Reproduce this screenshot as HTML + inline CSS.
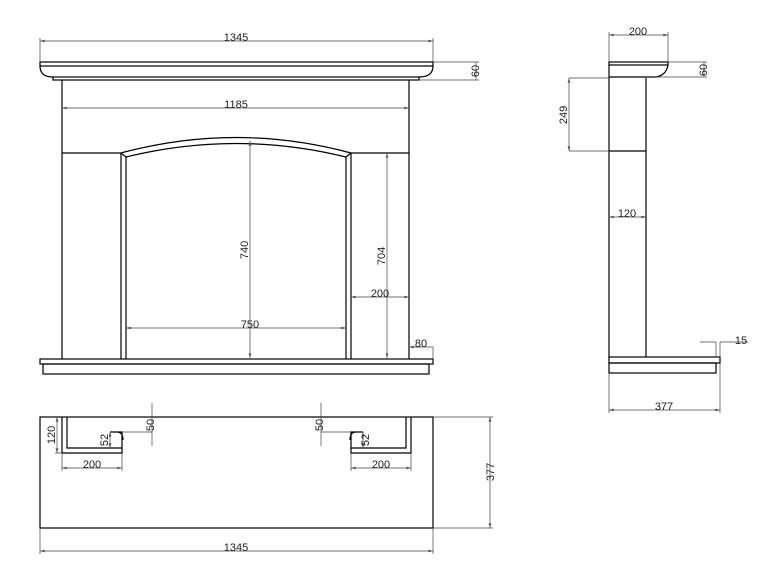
<!DOCTYPE html><html><head><style>body{margin:0;background:#fff}svg{display:block}text{font-family:"Liberation Sans",sans-serif;font-size:11px;fill:#222}</style></head><body>
<svg width="762" height="582" viewBox="0 0 762 582" xmlns="http://www.w3.org/2000/svg">
<defs><marker id="a" viewBox="0 0 10 6" refX="10" refY="3" markerWidth="8" markerHeight="4" orient="auto-start-reverse"><path d="M0,0L10,3L0,6z" fill="#555"/></marker></defs>
<g stroke="#000" stroke-width="1.2" fill="none">
<!-- front -->
<rect x="40" y="62" width="393" height="4"/>
<path d="M40,66 Q40,77 53,77 M433,66 Q433,77 419,77"/>
<rect x="53" y="77" width="366" height="3"/>
<path d="M62,80V359 M409,80V359"/>
<path d="M62,153H121 M351,153H409"/>
<path d="M121,153 Q236,122 351,153 M126,157 Q236,130 346,157 M121,153L126,157 M351,153L346,157"/>
<path d="M121,153V359 M126,157V359 M346,157V359 M351,153V359"/>
<rect x="40" y="359" width="393" height="5"/>
<rect x="43" y="364" width="386" height="10"/>
<!-- plan -->
<rect x="40" y="417" width="393" height="111"/>
<path d="M62,417V453H122V446 M67,417V448H122 M110,432H122V448 M117,432Q123,432 123,440"/>
<path d="M411,417V453H351V446 M406,417V448H351 M363,432H351V448 M356,432Q350,432 350,440"/>
<!-- side -->
<rect x="609" y="62" width="59" height="3"/>
<path d="M609,65V358 M668,65 Q666,76 655,77 M609,77H655 M646,78V357 M609,151H646"/>
<rect x="609" y="357" width="111" height="6"/>
<rect x="609" y="363" width="107" height="10"/>
</g>
<g stroke="#444" stroke-width="0.7" fill="none">
<line x1="40" y1="41" x2="433" y2="41" marker-start="url(#a)" marker-end="url(#a)"/>
<path d="M40,38V62 M433,38V62"/>
<line x1="62" y1="108" x2="409" y2="108" marker-start="url(#a)" marker-end="url(#a)"/>
<path d="M433,62H479 M419,80H479"/>
<line x1="476" y1="62" x2="476" y2="80"/>
<line x1="250" y1="141" x2="250" y2="358" marker-start="url(#a)" marker-end="url(#a)"/>
<line x1="387" y1="153" x2="387" y2="358" marker-start="url(#a)" marker-end="url(#a)"/>
<line x1="351" y1="297" x2="409" y2="297" marker-start="url(#a)" marker-end="url(#a)"/>
<line x1="126" y1="328" x2="346" y2="328" marker-start="url(#a)" marker-end="url(#a)"/>
<path d="M409,347H433V359"/>
<line x1="409" y1="347" x2="421" y2="347" marker-start="url(#a)"/>
<!-- plan dims -->
<line x1="40" y1="551" x2="433" y2="551" marker-start="url(#a)" marker-end="url(#a)"/>
<path d="M40,528V554 M433,528V554 M433,417H493 M433,528H493"/>
<line x1="490" y1="417" x2="490" y2="528" marker-start="url(#a)" marker-end="url(#a)"/>
<line x1="62" y1="468" x2="122" y2="468" marker-start="url(#a)" marker-end="url(#a)"/>
<line x1="351" y1="468" x2="411" y2="468" marker-start="url(#a)" marker-end="url(#a)"/>
<path d="M62,453V471 M122,453V471 M351,453V471 M411,453V471 M55,453H62"/>
<line x1="57" y1="417" x2="57" y2="453" marker-start="url(#a)" marker-end="url(#a)"/>
<path d="M152,403V446 M122,432H152 M321,403V446 M351,432H321"/>
<line x1="110" y1="432" x2="110" y2="448" marker-start="url(#a)" marker-end="url(#a)"/>
<line x1="363" y1="432" x2="363" y2="448" marker-start="url(#a)" marker-end="url(#a)"/>
<!-- side dims -->
<line x1="609" y1="35" x2="668" y2="35" marker-start="url(#a)" marker-end="url(#a)"/>
<path d="M609,32V62 M668,32V62 M668,62H707 M655,77H707"/>
<line x1="704" y1="62" x2="704" y2="77"/>
<path d="M569,78H609 M569,151H609"/>
<line x1="569" y1="78" x2="569" y2="151" marker-start="url(#a)" marker-end="url(#a)"/>
<line x1="609" y1="217" x2="646" y2="217" marker-start="url(#a)" marker-end="url(#a)"/>
<line x1="609" y1="410" x2="720" y2="410" marker-start="url(#a)" marker-end="url(#a)"/>
<path d="M609,373V413 M720,363V413 M716,342V357 M720,342V357 M700,342H716 M720,342H748"/>
</g>
<text x="236" y="41" text-anchor="middle">1345</text>
<text x="236" y="108" text-anchor="middle">1185</text>
<text x="236" y="551" text-anchor="middle">1345</text>
<text x="250" y="328" text-anchor="middle">750</text>
<text x="380" y="297" text-anchor="middle">200</text>
<text x="421" y="347" text-anchor="middle">80</text>
<text x="92" y="468" text-anchor="middle">200</text>
<text x="381" y="468" text-anchor="middle">200</text>
<text x="638" y="35" text-anchor="middle">200</text>
<text x="627" y="217" text-anchor="middle">120</text>
<text x="664" y="410" text-anchor="middle">377</text>
<text x="741" y="344" text-anchor="middle">15</text>
<text transform="translate(248,250) rotate(-90)" text-anchor="middle">740</text>
<text transform="translate(385,256) rotate(-90)" text-anchor="middle">704</text>
<text transform="translate(479,71) rotate(-90)" text-anchor="middle">60</text>
<text transform="translate(707,70) rotate(-90)" text-anchor="middle">60</text>
<text transform="translate(567,115) rotate(-90)" text-anchor="middle">249</text>
<text transform="translate(494,472) rotate(-90)" text-anchor="middle">377</text>
<text transform="translate(55,435) rotate(-90)" text-anchor="middle">120</text>
<text transform="translate(154,425) rotate(-90)" text-anchor="middle">50</text>
<text transform="translate(323,425) rotate(-90)" text-anchor="middle">50</text>
<text transform="translate(108,440) rotate(-90)" text-anchor="middle">52</text>
<text transform="translate(369,440) rotate(-90)" text-anchor="middle">52</text>
</svg>
</body></html>
